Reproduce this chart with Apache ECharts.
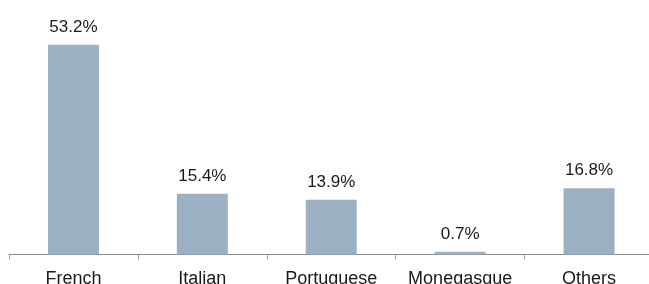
<!DOCTYPE html>
<html><head><meta charset="utf-8">
<script src="https://cdn.jsdelivr.net/npm/echarts@6/dist/echarts.min.js"></script>
<style>html,body{margin:0;padding:0;background:#fff}#c{width:649px;height:284px}</style>
</head><body><div id="c"></div>
<script>
var categories = ['French', 'Italian', 'Portuguese', 'Monegasque', 'Others'];
var values = [53.2, 15.4, 13.9, 0.7, 16.8];
var chart = echarts.init(document.getElementById('c'));
chart.setOption({
  animation: false,
  grid: {left: 9, top: 18, width: 644.5, height: 236.5, containLabel: false, outerBoundsMode: 'none'},
  xAxis: {
    type: 'category', data: categories,
    axisLine: {lineStyle: {color: '#8a8a8a', width: 1}},
    axisTick: {show: true, length: 5, lineStyle: {color: '#a0a0a0'}},
    axisLabel: {interval: 0, hideOverlap: false, color: '#1a1a1a', fontSize: 18, fontFamily: 'Liberation Sans, Arial, sans-serif', margin: 16}
  },
  yAxis: {type: 'value', min: 0, max: 60, show: false, splitLine: {show: false}},
  series: [{
    type: 'bar', data: values, barWidth: 51,
    itemStyle: {color: '#9bb0c3'},
    label: {show: true, position: 'top', distance: 9, formatter: function(p){return p.value.toFixed(1)+'%';},
      color: '#1a1a1a', fontSize: 17, fontFamily: 'Liberation Sans, Arial, sans-serif'}
  }]
});
</script></body></html>
